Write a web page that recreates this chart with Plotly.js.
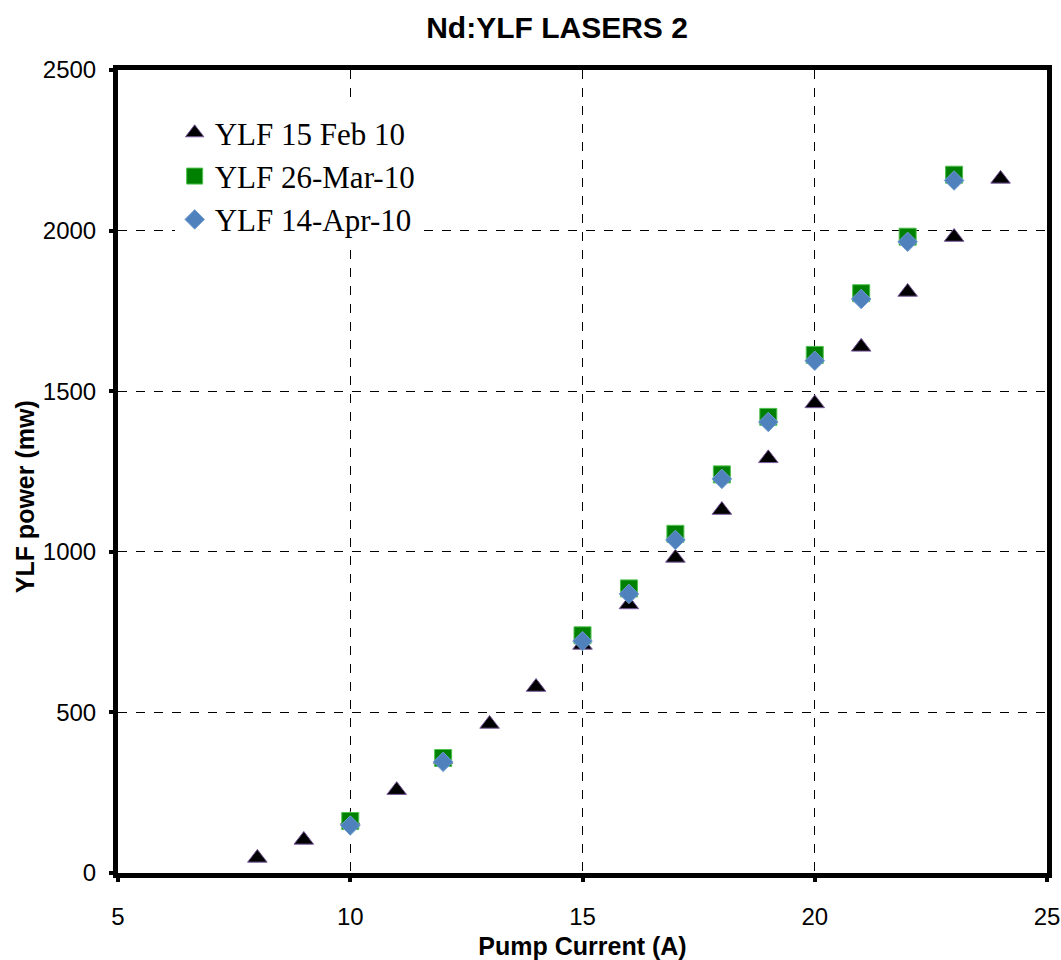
<!DOCTYPE html>
<html>
<head>
<meta charset="utf-8">
<script src="https://cdn.plot.ly/plotly-3.0.1.min.js"></script>
<style>html,body{margin:0;padding:0;background:#fff;}#chart{width:1061px;height:960px;}</style>
</head>
<body>
<div id="chart"></div>
<script>
const febCurrent = [8, 9, 10, 11, 12, 13, 14, 15, 16, 17, 18, 19, 20, 21, 22, 23, 24];
const febPower   = [47, 103, 165, 258, 355, 464, 579, 710, 836, 981, 1130, 1291, 1462, 1638, 1809, 1980, 2161];

const marCurrent = [10, 12, 15, 16, 17, 18, 19, 20, 21, 22, 23];
const marPower   = [162, 358, 740, 886, 1056, 1241, 1420, 1613, 1805, 1981, 2174];

const aprCurrent = [10, 12, 15, 16, 17, 18, 19, 20, 21, 22, 23];
const aprPower   = [148, 346, 722, 869, 1037, 1227, 1404, 1595, 1787, 1965, 2156];

const seriesNames = ['YLF 15 Feb 10', 'YLF 26-Mar-10', 'YLF 14-Apr-10'];
const xTicks = [5, 10, 15, 20, 25];
const yTicks = [0, 500, 1000, 1500, 2000, 2500];
const yTitle = 'YLF power (mw)';

const traces = [
  {x: febCurrent, y: febPower, name: seriesNames[0], type: 'scatter', mode: 'markers', legendgroup: 'a',
   marker: {symbol: 'triangle-up', size: 17, color: '#000000', line: {color: '#7a5c9e', width: 1}}},
  {x: marCurrent, y: marPower, name: seriesNames[1], type: 'scatter', mode: 'markers', legendgroup: 'b',
   marker: {symbol: 'square', size: 17, color: '#008000', line: {color: '#4fc04f', width: 1}}},
  {x: aprCurrent, y: aprPower, name: seriesNames[2], type: 'scatter', mode: 'markers', legendgroup: 'c',
   marker: {symbol: 'diamond', size: 15, color: '#4f81bd', line: {color: '#6f9bd0', width: 1}}}
];

const sans = 'Liberation Sans, Arial, sans-serif';
const axisCommon = {
  showline: true, linecolor: '#000', linewidth: 5, mirror: true,
  showgrid: true, gridcolor: '#000', gridwidth: 1, griddash: 'dash',
  ticks: 'outside', ticklen: 4, tickwidth: 4, tickcolor: '#000',
  zeroline: false,
  tickfont: {family: sans, size: 24, color: '#000'}
};

const layout = {
  width: 1061, height: 960,
  margin: {l: 118, r: 14, t: 70, b: 87},
  paper_bgcolor: '#fff', plot_bgcolor: '#fff',
  title: {text: '<b>Nd:YLF LASERS 2</b>', x: 0.525, xanchor: 'center', y: 0.971, yanchor: 'middle',
          font: {family: sans, size: 30, color: '#000'}},
  xaxis: Object.assign({}, axisCommon, {
    range: [5, 25], tickvals: xTicks, ticktext: xTicks.map(String), ticklabelstandoff: 14,
    title: {text: '<b>Pump Current (A)</b>', standoff: 12,
            font: {family: sans, size: 25, color: '#000'}}
  }),
  yaxis: Object.assign({}, axisCommon, {
    range: [0, 2500], tickvals: yTicks, ticktext: yTicks.map(String), ticklabelstandoff: 8
  }),
  annotations: [{
    text: '<b>' + yTitle + '</b>', xref: 'paper', yref: 'paper', x: -0.1, y: 0.468,
    xanchor: 'center', yanchor: 'middle', textangle: -90, showarrow: false,
    font: {family: sans, size: 25, color: '#000'}
  }],
  showlegend: true,
  legend: {x: 0.061, y: 0.955, xanchor: 'left', yanchor: 'top', bgcolor: '#fff', borderwidth: 0,
           traceorder: 'grouped', tracegroupgap: 0,
           font: {family: 'Liberation Serif, Times New Roman, serif', size: 31, color: '#000'}}
};

Plotly.newPlot('chart', traces, layout, {displayModeBar: false});
</script>
</body>
</html>
